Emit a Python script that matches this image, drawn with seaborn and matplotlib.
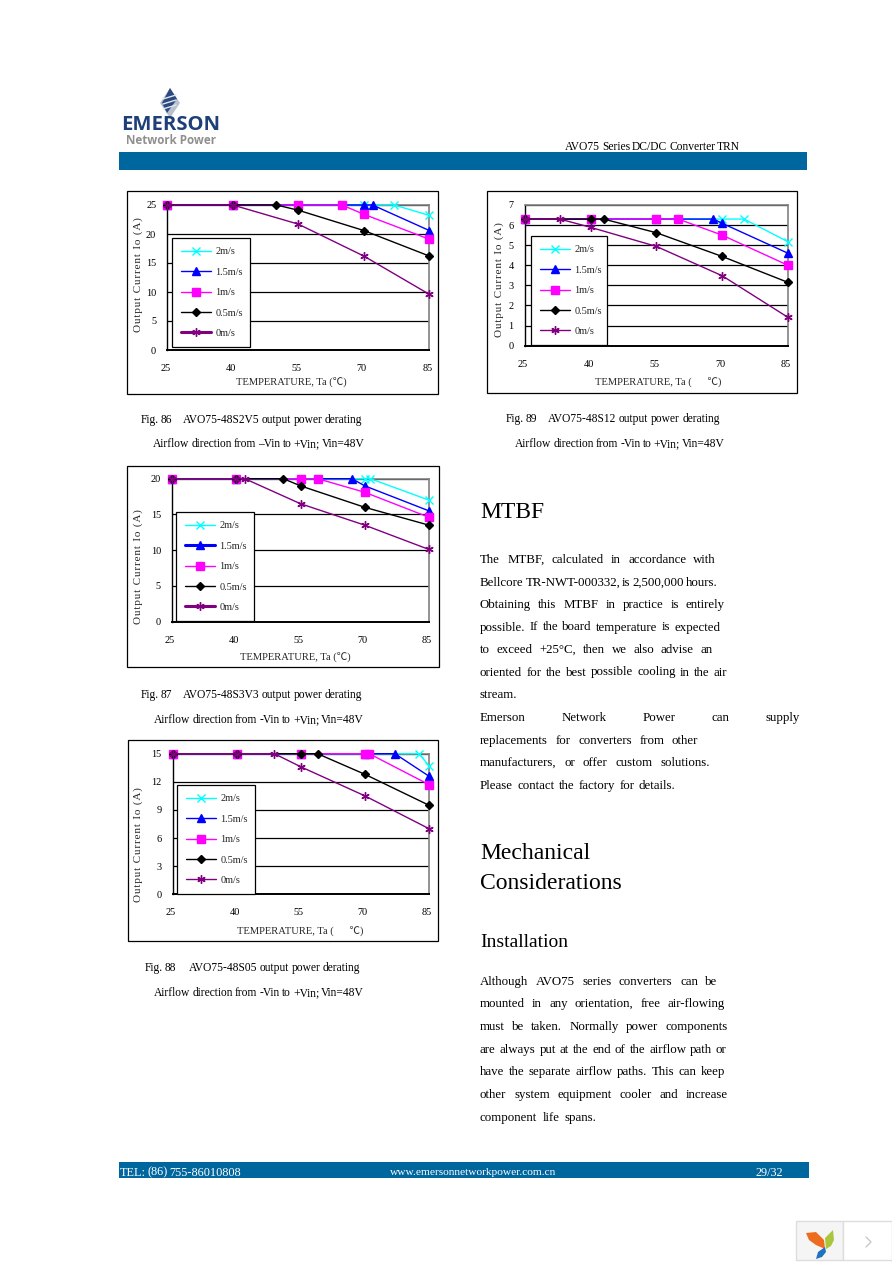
import matplotlib
matplotlib.use('Agg')
import matplotlib.pyplot as plt
import seaborn as sns
from matplotlib.patches import Rectangle, Polygon
from matplotlib.transforms import ScaledTranslation

W, H = 892, 1263
SERIF = ['Liberation Serif', 'Noto Sans CJK SC', 'DejaVu Sans']
BAR_BLUE = '#00669e'

# series
labels = ['2m/s', '1.5m/s', '1m/s', '0.5m/s', '0m/s']
colors = ['#00ffff', '#0000ff', '#ff00ff', '#000000', '#800080']
markers = ['x', '^', 's', 'D', (6, 2, 0)]
msizes = [6, 5.5, 5.5, 4.2, 6]

# Fig. 86
f86_temp = [[25, 40, 55, 70, 77, 85], [25, 40, 55, 70, 72, 85], [25, 40, 55, 65, 70, 85],
            [25, 40, 50, 55, 70, 85], [25, 40, 55, 70, 85]]
f86_curr = [[25, 25, 25, 25, 25, 23.2], [25, 25, 25, 25, 25, 20.6], [25, 25, 25, 25, 23.4, 19.1],
            [25, 25, 25, 24.1, 20.6, 16.2], [25, 25, 21.7, 16.2, 9.6]]
f86_yticks = [0, 5, 10, 15, 20, 25]

# Fig. 89
f89_temp = [[25, 40, 55, 70, 75, 85], [25, 40, 55, 68, 70, 85], [25, 40, 55, 60, 70, 85],
            [25, 40, 43, 55, 70, 85], [25, 33, 40, 55, 70, 85]]
f89_curr = [[6.3, 6.3, 6.3, 6.3, 6.3, 5.17], [6.3, 6.3, 6.3, 6.3, 6.09, 4.6], [6.3, 6.3, 6.3, 6.3, 5.5, 4.0],
            [6.3, 6.3, 6.3, 5.62, 4.44, 3.15], [6.3, 6.3, 5.89, 4.94, 3.48, 1.41]]
f89_yticks = [0, 1, 2, 3, 4, 5, 6, 7]

# Fig. 87
f87_temp = [[25, 40, 55, 70, 71.3, 85], [25, 40, 55, 67, 70, 85], [25, 40, 55, 59, 70, 85],
            [25, 40, 51, 55, 70, 85], [25, 40, 42, 55, 70, 85]]
f87_curr = [[20, 20, 20, 20, 20, 17.0], [20, 20, 20, 20, 19.0, 15.5], [20, 20, 20, 20, 18.1, 14.6],
            [20, 20, 20, 19.0, 16.0, 13.5], [20, 20, 20, 16.5, 13.5, 10.1]]
f87_yticks = [0, 5, 10, 15, 20]

# Fig. 88
f88_temp = [[25, 40, 55, 70, 82.7, 85], [25, 40, 55, 70, 77, 85], [25, 40, 55, 70, 71, 85],
            [25, 40, 55, 58.9, 70, 85], [25, 40, 48.8, 55, 70, 85]]
f88_curr = [[15, 15, 15, 15, 15, 13.7], [15, 15, 15, 15, 15, 12.6], [15, 15, 15, 15, 15, 11.7],
            [15, 15, 15, 15, 12.8, 9.5], [15, 15, 15, 13.6, 10.5, 7.0]]
f88_yticks = [0, 3, 6, 9, 12, 15]

x_ticks = [25, 40, 55, 70, 85]

sns.set_theme(style='white')
plt.rcParams['font.family'] = SERIF
plt.rcParams['font.size'] = 7

fig = plt.figure(figsize=(W / 100, H / 100), dpi=100, facecolor='white')
page = fig.add_axes([0, 0, 1, 1], zorder=0)
page.set_xlim(0, W)
page.set_ylim(H, 0)
page.axis('off')
renderer = fig.canvas.get_renderer()


def put(text, x, y, size=9.3, **kw):
    kw.setdefault('va', 'center')
    kw.setdefault('color', 'black')
    return page.text(x, y, text, fontsize=size, **kw)


def fit(line, x0, x1, y, size=9.3, color='black'):
    """Place words so the line runs from x0 to x1."""
    words = line.split(' ')
    items = [put(w, 0, y, size, color=color) for w in words]
    widths = [t.get_window_extent(renderer).width for t in items]
    gap = (x1 - x0 - sum(widths)) / max(len(words) - 1, 1)
    x = x0
    for t, w in zip(items, widths):
        t.set_x(x)
        x += w + gap


def chart(frame, plot, temps, currs, yticks, legend_box, ylabel_pos, xlabel_pos, xlabel, thick=()):
    page.add_patch(Rectangle((frame[0], frame[1]), frame[2] - frame[0], frame[3] - frame[1],
                             fc='white', ec='black', lw=0.9))
    x0, y0, x1, y1 = plot
    ax = fig.add_axes([x0 / W, 1 - y1 / H, (x1 - x0) / W, (y1 - y0) / H], zorder=2)
    ax.patch.set_alpha(0)
    ymax = yticks[-1]
    for i in range(5):
        sns.lineplot(x=temps[i], y=currs[i], ax=ax, color=colors[i], marker=markers[i],
                     markersize=msizes[i], markeredgecolor=colors[i], markeredgewidth=1.0,
                     linewidth=1.0, label=labels[i], sort=False, errorbar=None,
                     clip_on=False, zorder=3 + i)
    ax.set_xlim(25, 85)
    ax.set_ylim(0, ymax)
    ax.set_xticks(x_ticks)
    ax.set_yticks(yticks)
    ax.tick_params(length=0, labelsize=7.4, colors='black')
    ax.tick_params(axis='x', pad=10)
    ax.tick_params(axis='y', pad=8)
    for lab in ax.get_xticklabels():
        lab.set_transform(lab.get_transform() + ScaledTranslation(-2 / 100, 0, fig.dpi_scale_trans))
    ax.yaxis.grid(True, color='black', lw=0.9)
    ax.xaxis.grid(False)
    ax.set_axisbelow(True)
    for side, col, lw in [('left', 'black', 1.0), ('bottom', 'black', 1.4), ('top', '#808080', 1.2), ('right', '#808080', 1.2)]:
        ax.spines[side].set_visible(True)
        ax.spines[side].set_color(col)
        ax.spines[side].set_linewidth(lw)
    ax.set_ylabel('\u200a'.join('Output Current Io (A)'), fontsize=8, rotation=90, va='center', ha='center', labelpad=0)
    ax.yaxis.set_label_coords((ylabel_pos[0] - x0) / (x1 - x0), (y1 - ylabel_pos[1]) / (y1 - y0))
    ax.set_xlabel(xlabel, fontsize=7.6, va='center', ha='center', labelpad=0)
    ax.xaxis.set_label_coords((xlabel_pos[0] - x0) / (x1 - x0), (y1 - xlabel_pos[1]) / (y1 - y0))
    lx0, ly0, lx1, ly1 = legend_box
    leg = ax.legend(loc='upper left', mode='expand', ncol=1, frameon=True, fancybox=False,
                    bbox_to_anchor=((lx0 - x0) / (x1 - x0), (y1 - ly1) / (y1 - y0),
                                    (lx1 - lx0) / (x1 - x0), (ly1 - ly0) / (y1 - y0)),
                    borderaxespad=0, borderpad=0.9, labelspacing=1.09, handlelength=2.9,
                    handletextpad=0.4, fontsize=7.4, framealpha=1, edgecolor='black')
    leg.get_frame().set_linewidth(0.9)
    leg.set_zorder(20)
    for i, h in enumerate(leg.get_lines()):
        h.set_linewidth(2.2 if i in thick else 1.0)
    return ax


chart((127, 191, 438, 394), (167.3, 205, 429.3, 350), f86_temp, f86_curr, f86_yticks,
      (172, 238, 250, 348), (138, 275), (291, 381.7), 'TEMPERATURE, Ta (\u2103)', thick=(4,))
chart((487, 191, 797, 393), (524.7, 205, 788, 345.7), f89_temp, f89_curr, f89_yticks,
      (531, 236, 607, 347), (499, 280), (657.7, 381.7), 'TEMPERATURE, Ta (      \u2103)')
chart((127, 466, 439, 667), (172, 478.7, 429, 621.7), f87_temp, f87_curr, f87_yticks,
      (176, 512, 254, 621), (138, 566.7), (295.8, 656.7), 'TEMPERATURE, Ta (\u2103)', thick=(1, 4))
chart((128, 740, 438, 941), (172.7, 753.7, 429, 894.3), f88_temp, f88_curr, f88_yticks,
      (177, 785, 255, 894), (138, 845), (300, 930.7), 'TEMPERATURE, Ta (      \u2103)')

# header and footer bars
page.add_patch(Rectangle((119, 152), 688, 18, fc=BAR_BLUE, ec='none'))
page.add_patch(Rectangle((119, 1162), 690, 16, fc=BAR_BLUE, ec='none'))
fit('AVO75 Series DC/DC Converter TRN', 565, 740, 147, 8.3)
fit('TEL: (86) 755-86010808', 120, 241, 1172.5, 8.8, color='white')
fit('www.emersonnetworkpower.com.cn', 390, 555, 1172.5, 8.2, color='white')
fit('29/32', 755, 782, 1172.5, 8.8, color='white')

# logo
page.add_patch(Polygon([(170, 88), (180, 103), (170, 118), (160, 103)], fc='#b9c2cc', ec='none'))
page.add_patch(Polygon([(170, 88), (177, 99), (167, 113), (162, 103)], fc='#2c4a80', ec='none'))
for yy in (97, 102, 107):
    page.plot([163, 176], [yy + 2, yy - 2], color='#dfe6ee', lw=1.0)
put('EMERSON', 170.5, 125.5, 14.6, family=['Open Sans', 'DejaVu Sans'], weight='bold', color='#1f3f78', ha='center')
put('Network Power', 171, 141, 8.4, family=['Open Sans', 'DejaVu Sans'], weight='bold', color='#8f8f8f', ha='center')

# captions
fit('Fig. 86', 141, 172, 420, 8.3)
fit('AVO75-48S2V5 output power derating', 183, 362, 420, 8.3)
fit('Airflow direction from \u2013Vin to +Vin; Vin=48V', 153, 365, 444, 8.3)
fit('Fig. 87', 141, 172, 695, 8.3)
fit('AVO75-48S3V3 output power derating', 183, 362, 695, 8.3)
fit('Airflow direction from -Vin to +Vin; Vin=48V', 154, 364, 720, 8.3)
fit('Fig. 88', 145, 176, 968, 8.3)
fit('AVO75-48S05 output power derating', 189, 360, 968, 8.3)
fit('Airflow direction from -Vin to +Vin; Vin=48V', 154, 364, 993, 8.3)
fit('Fig. 89', 506, 537, 419, 8.3)
fit('AVO75-48S12 output power derating', 548, 720, 419, 8.3)
fit('Airflow direction from -Vin to +Vin; Vin=48V', 515, 725, 444, 8.3)

# right column
put('MTBF', 480, 513, 17)
mtbf_lines = [
    ('The MTBF, calculated in accordance with', 716, 560),
    ('Bellcore TR-NWT-000332, is 2,500,000 hours.', 717.7, 582.7),
    ('Obtaining this MTBF in practice is entirely', 725, 605),
    ('possible. If the board temperature is expected', 720.7, 627.5),
    ('to exceed +25\u00b0C, then we also advise an', 712.7, 650),
    ('oriented for the best possible cooling in the air', 727.3, 672.5),
    ('stream.', 517.7, 695.5),
    ('Emerson Network Power can supply', 800, 718),
    ('replacements for converters from other', 698.3, 741),
    ('manufacturers, or offer custom solutions.', 710, 763.5),
    ('Please contact the factory for details.', 675.7, 786),
]
for line, right, y in mtbf_lines:
    fit(line, 480, right, y)

put('Mechanical', 480, 853.7, 17)
put('Considerations', 480, 883.7, 17)
put('Installation', 480, 942.7, 14)
install_lines = [
    ('Although AVO75 series converters can be', 717.7, 981.7),
    ('mounted in any orientation, free air-flowing', 725, 1004),
    ('must be taken. Normally power components', 727.3, 1027),
    ('are always put at the end of the airflow path or', 726.7, 1050),
    ('have the separate airflow paths. This can keep', 725, 1072),
    ('other system equipment cooler and increase', 728.3, 1095),
    ('component life spans.', 596.7, 1117.7),
]
for line, right, y in install_lines:
    fit(line, 480, right, y)

# page widget, bottom right
page.add_patch(Rectangle((796, 1221), 47, 39, fc='#f5f5f5', ec='#dddddd', lw=1))
page.add_patch(Rectangle((843, 1221), 49, 39, fc='white', ec='#dddddd', lw=1))
page.add_patch(Polygon([(806, 1233), (816, 1232), (824, 1240), (825, 1249), (816, 1245), (809, 1240)], fc='#ee6c1e', ec='none'))
page.add_patch(Polygon([(826, 1249), (825, 1238), (833, 1230), (834, 1240), (831, 1246)], fc='#a9c63c', ec='none'))
page.add_patch(Polygon([(816, 1259), (818, 1252), (825, 1247), (826, 1252), (822, 1257)], fc='#1f72c0', ec='none'))
page.plot([866, 871, 866], [1237, 1242, 1247], color='#c4c4c4', lw=0.9)

fig.savefig('out.png', dpi=100)
